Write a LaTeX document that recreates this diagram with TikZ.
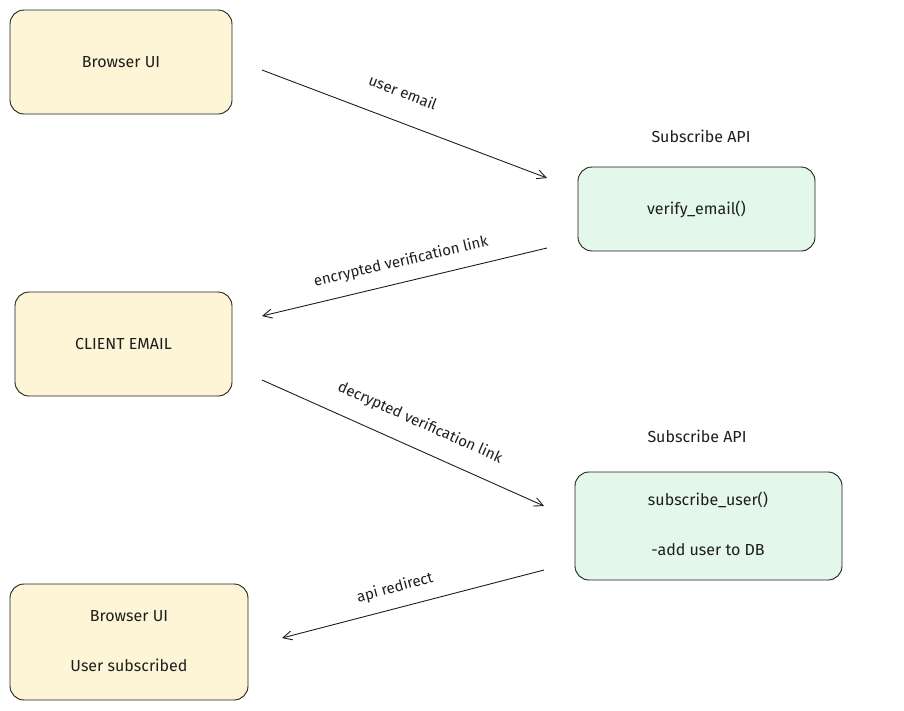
\documentclass[tikz,border=0pt]{standalone}
\usepackage{fontspec}
\setmainfont{Fira Sans}
\usetikzlibrary{arrows.meta,patterns}
\definecolor{ybg}{HTML}{FDF5D6}
\definecolor{gbg}{HTML}{E3F7EA}
\definecolor{ink}{HTML}{1E1E1E}
\begin{document}
\begin{tikzpicture}[x=1pt,y=-1pt,
 box/.style={draw=ink,line width=0.9pt,rounded corners=14pt},
 yb/.style={box,fill=ybg},
 gb/.style={box,fill=gbg},
 txt/.style={font=\fontsize{16}{18}\selectfont,text=ink},
 arr/.style={draw=ink,line width=0.9pt,-{Straight Barb[length=9pt,width=9pt]}},
 lbl/.style={font=\fontsize{15}{17}\selectfont,text=ink,inner sep=0pt}]
\useasboundingbox (0,0) rectangle (904,710);
\node[yb,minimum width=222pt,minimum height=104pt] (b1) at (121,62) {};
\node[txt] at (b1) {Browser UI};
\node[txt] (l1) at (701,136) {Subscribe API};
\node[gb,minimum width=237pt,minimum height=84pt] (v) at (696.5,209) {};
\node[txt] at (v) {verify\_email()};
\node[yb,minimum width=217pt,minimum height=104pt] (c) at (123.5,344) {};
\node[txt] at (c) {CLIENT EMAIL};
\node[txt] (l2) at (697,436) {Subscribe API};
\node[gb,minimum width=267pt,minimum height=108pt] (s) at (708.5,526) {};
\node[txt] at (708,500) {subscribe\_user()};
\node[txt] at (708,550) {-add user to DB};
\node[yb,minimum width=238pt,minimum height=116pt] (b2) at (129,642) {};
\node[txt] at (129,616) {Browser UI};
\node[txt] at (129,665) {User subscribed};
\coordinate (a1s) at (262,70); \coordinate (a1e) at (547,178);
\coordinate (a2s) at (547,248); \coordinate (a2e) at (262,316);
\coordinate (a3s) at (262,380); \coordinate (a3e) at (544,506);
\coordinate (a4s) at (544,570); \coordinate (a4e) at (282,638);
\draw[arr] (a1s) -- (a1e);
\draw[arr] (a2s) -- (a2e);
\draw[arr] (a3s) -- (a3e);
\draw[arr] (a4s) -- (a4e);
\node[lbl,rotate=-21] at (403,92) {user email};
\node[lbl,rotate=13] at (401,262) {encrypted verification link};
\node[lbl,rotate=-24] at (420,423) {decrypted verification link};
\node[lbl,rotate=15] at (395,588) {api redirect};
\end{tikzpicture}
\end{document}
